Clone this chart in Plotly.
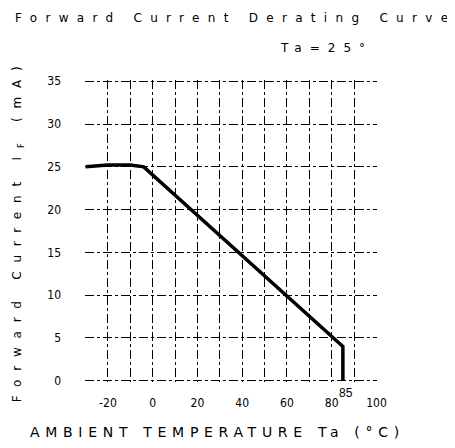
import plotly.graph_objects as go

temperature = [-30, -20, -10, -4, 85, 85]
current = [25, 25.2, 25.2, 25, 4, 0]
x_ticks = [-20, 0, 20, 40, 60, 80, 100]
y_ticks = [0, 5, 10, 15, 20, 25, 30, 35]

fig = go.Figure()
fig.add_trace(go.Scatter(x=temperature, y=current, mode="lines",
                         line=dict(color="black", width=3.5), hoverinfo="skip"))

tickfont = dict(family="Liberation Sans Narrow, DejaVu Sans Condensed, sans-serif", size=12, color="black")
fig.update_xaxes(range=[-30.25, 100.25], tickvals=x_ticks, ticktext=[str(v) for v in x_ticks],
                 showgrid=True, gridcolor="black", gridwidth=1, griddash="dashdot",
                 minor=dict(dtick=10, tick0=-30, showgrid=True, gridcolor="black", gridwidth=1, griddash="dashdot"),
                 zeroline=False, showline=False, ticks="", ticklabelstandoff=12, tickfont=tickfont,
                 automargin=False)
fig.update_yaxes(range=[-0.15, 35.15], tickvals=y_ticks,
                 showgrid=True, gridcolor="black", gridwidth=1, griddash="dashdot",
                 zeroline=False, showline=False, ticks="", ticklabelstandoff=23, tickfont=tickfont,
                 automargin=False)

titlefont = dict(family="DejaVu Sans, sans-serif", size=12, color="black")
fig.add_annotation(x=85, y=0, text="85", showarrow=False, yshift=-12, xshift=3,
                   font=dict(family="Liberation Sans Narrow, sans-serif", size=12, color="black"))
fig.add_annotation(xref="paper", yref="paper", x=0.514, y=1.205, xanchor="center", yanchor="middle",
                   text='<span style="letter-spacing:8.3px">Forward Current Derating Curve</span>',
                   showarrow=False, font=titlefont)
fig.add_annotation(xref="paper", yref="paper", x=0.826, y=1.106, xanchor="center", yanchor="middle",
                   text='<span style="letter-spacing:8px">Ta=25°</span>',
                   showarrow=False, font=titlefont)
fig.add_annotation(xref="paper", yref="paper", x=0.455, y=-0.166, xanchor="center", yanchor="middle",
                   text='<span style="letter-spacing:5.7px">AMBIENT TEMPERATURE Ta (°C)</span>',
                   showarrow=False, font=dict(family="DejaVu Sans, sans-serif", size=14, color="black"))
fig.add_annotation(xref="paper", yref="paper", x=-0.229, y=0.503, xanchor="center", yanchor="middle",
                   textangle=-90,
                   text='<span style="letter-spacing:8.8px">Forward Current I<sub>F</sub> (mA)</span>',
                   showarrow=False, font=titlefont)

# page body has an 8px default margin, so the figure is offset by 8px right and down
fig.update_layout(width=447, height=440, margin=dict(l=77, r=78, t=72, b=66),
                  plot_bgcolor="white", paper_bgcolor="white", showlegend=False)
fig.write_html("out.html")
